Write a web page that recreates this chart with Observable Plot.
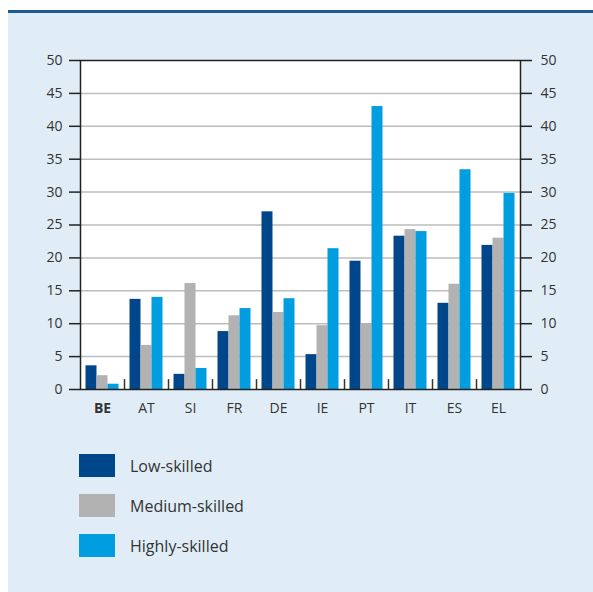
<!DOCTYPE html>
<html>
<head>
<meta charset="utf-8">
<script src="https://cdn.jsdelivr.net/npm/d3@7"></script>
<script src="https://cdn.jsdelivr.net/npm/@observablehq/plot@0.6"></script>
<style>
  html, body { margin: 0; padding: 0; background: #ffffff; }
  #card {
    position: absolute; left: 8px; top: 10px; width: 585px; height: 579px;
    background: #e1edf6; border-top: 3px solid #1d5a97;
    font-family: "Open Sans", "Noto Sans", sans-serif; color: #333;
  }
  #chart svg { display: block; }
  #legend { margin-left: 71px; margin-top: 21px; }
  .row { display: flex; align-items: center; height: 23px; margin-bottom: 17px; }
  .sw { width: 36px; height: 23px; margin-right: 15px; }
  .lab { font-size: 16px; color: #333; }
</style>
</head>
<body>
<div id="card">
  <div id="chart"></div>
  <div id="legend"></div>
</div>
<script>
const countries = ["BE", "AT", "SI", "FR", "DE", "IE", "PT", "IT", "ES", "EL"];
const seriesNames = ["Low-skilled", "Medium-skilled", "Highly-skilled"];
const lowSkilled    = [3.6, 13.7, 2.3, 8.8, 27.0, 5.3, 19.5, 23.3, 13.1, 21.9];
const mediumSkilled = [2.1, 6.7, 16.1, 11.2, 11.7, 9.7, 10.0, 24.3, 16.0, 23.0];
const highlySkilled = [0.8, 14.0, 3.2, 12.3, 13.8, 21.4, 43.0, 24.0, 33.4, 29.8];
const colors = ["#00468b", "#b2b2b2", "#009ee0"];
const yTicks = [0, 5, 10, 15, 20, 25, 30, 35, 40, 45, 50];

const seriesValues = [lowSkilled, mediumSkilled, highlySkilled];
const data = seriesNames.map((s, i) => countries.map((c, j) => ({country: c, series: s, value: seriesValues[i][j]})));

// bar slot within each 44px group (3 bars of 11px, centered)
const insets = [[5.5, 27.5], [16.5, 16.5], [27.5, 5.5]];

const chart = Plot.plot({
  width: 585,
  height: 420,
  marginLeft: 72,
  marginRight: 73,
  marginTop: 47,
  marginBottom: 44,
  style: {background: "transparent", fontFamily: "'Open Sans', 'Noto Sans', sans-serif", fontSize: "14px", color: "#333"},
  x: {type: "band", domain: countries, padding: 0},
  y: {domain: [0, 50]},
  marks: [
    Plot.frame({fill: "white", stroke: "none"}),
    Plot.ruleY(yTicks.slice(1, -1), {stroke: "#bdbdbd", strokeWidth: 1.5}),
    ...data.map((d, i) => Plot.barY(d, {
      x: "country", y: "value", fill: colors[i],
      insetLeft: insets[i][0], insetRight: insets[i][1]
    })),
    Plot.ruleX(countries.slice(1), {x: d => d, dx: -22, y1: 0, y2: 1.5, stroke: "#333", strokeWidth: 1.5}),
    Plot.frame({stroke: "#222", strokeWidth: 1.5}),
    Plot.axisY(yTicks, {anchor: "left", tickSize: 11, tickPadding: 7, stroke: "#222", strokeWidth: 1.5, fill: "#333", label: null, fontSize: 14}),
    Plot.axisY(yTicks, {anchor: "right", tickSize: 11, tickPadding: 9, stroke: "#222", strokeWidth: 1.5, fill: "#333", label: null, fontSize: 14}),
    Plot.axisX({tickSize: 0, tickPadding: 14, fill: "#333", label: null, fontSize: 14})
  ]
});
document.getElementById("chart").appendChild(chart);
d3.select(chart).selectAll("text").filter(function() { return this.textContent === "BE"; }).attr("font-weight", "bold");

const legend = document.getElementById("legend");
seriesNames.forEach((s, i) => {
  const row = document.createElement("div");
  row.className = "row";
  const sw = document.createElement("div");
  sw.className = "sw";
  sw.style.background = colors[i];
  const lab = document.createElement("div");
  lab.className = "lab";
  lab.textContent = s;
  row.appendChild(sw); row.appendChild(lab);
  legend.appendChild(row);
});
</script>
</body>
</html>
